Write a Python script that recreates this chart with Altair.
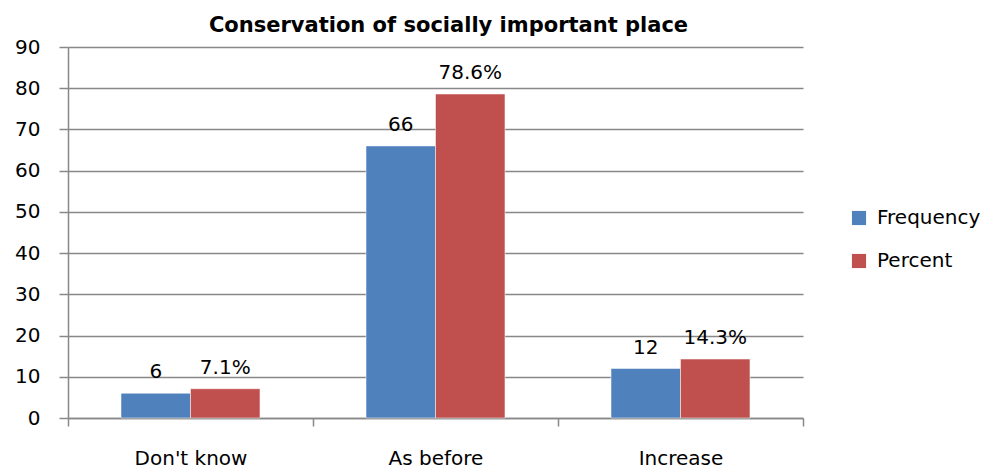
import altair as alt
import pandas as pd

categories = ["Don't know", "As before", "Increase"]
frequency = [6, 66, 12]
percent = [7.1, 78.6, 14.3]
series = ["Frequency", "Percent"]
colors = ["#4F81BD", "#C0504D"]

rows = []
for c, f, p in zip(categories, frequency, percent):
    rows.append({"cat": c, "series": "Frequency", "value": f, "label": f"{f}"})
    rows.append({"cat": c, "series": "Percent", "value": p, "label": f"{p}%"})
df = pd.DataFrame(rows)

FONT = "DejaVu Sans"
FS = 20

x = alt.X("cat:N", sort=categories, title=None,
          scale=alt.Scale(paddingInner=0, paddingOuter=0),
          axis=alt.Axis(labelAngle=0, labelFontSize=FS, labelFont=FONT, labelColor="#000",
                        labelPadding=22, tickBand="extent", tickSize=8, tickColor="#888",
                        domainColor="#888", domainWidth=1.5, tickWidth=1.5, grid=False))
y = alt.Y("value:Q", title=None,
          scale=alt.Scale(domain=[0, 90], nice=False),
          axis=alt.Axis(values=list(range(0, 91, 10)), labelFontSize=FS, labelFont=FONT,
                        labelColor="#000", labelPadding=19, tickSize=9, tickColor="#888",
                        domainColor="#888", domainWidth=1.5, tickWidth=1.5,
                        gridColor="#888", gridWidth=1.5))
xo = alt.XOffset("series:N", sort=series,
                 scale=alt.Scale(paddingInner=0, paddingOuter=0.763))
color = alt.Color("series:N", sort=series, title=None,
                  scale=alt.Scale(domain=series, range=colors),
                  legend=alt.Legend(orient="none", legendX=781, legendY=161,
                                    symbolType="square", symbolSize=200, symbolStrokeWidth=0,
                                    labelFontSize=FS, labelFont=FONT, labelColor="#000",
                                    rowPadding=23, labelOffset=8))

bars = alt.Chart(df).mark_bar(stroke="white", strokeWidth=0.5).encode(x=x, y=y, xOffset=xo, color=color)
text = alt.Chart(df).mark_text(dy=-21, fontSize=FS, font=FONT, color="#000").encode(
    x=x, y=y, xOffset=xo, text="label:N")

chart = (bars + text).properties(
    width=735, height=371,
    background="white",
    title=alt.Title("Conservation of socially important place", fontSize=21, font=FONT,
                    fontWeight="bold", color="#000", anchor="middle", dx=13, offset=1),
    autosize=alt.AutoSizeParams(type="none"),
    padding={"left": 68, "top": 47, "right": 202, "bottom": 51},
).configure_view(stroke=None)

chart.save("out.html", embed_options={"renderer": "svg", "actions": False})
